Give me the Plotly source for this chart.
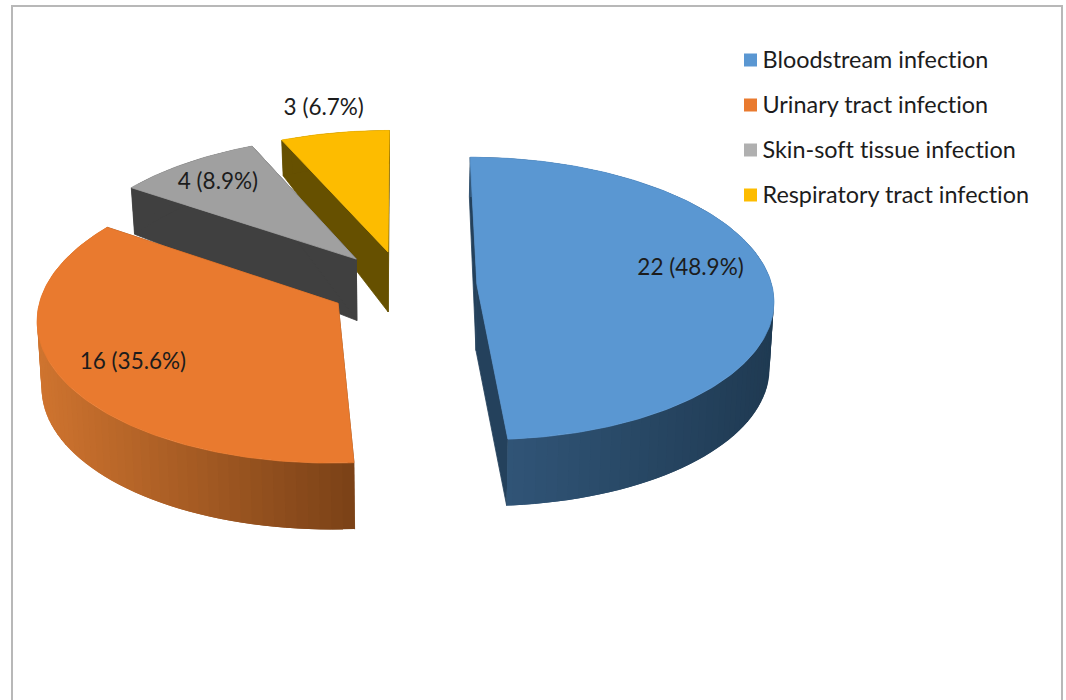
import numpy as np
import plotly.graph_objects as go

# Chart data
categories = ["Bloodstream infection", "Urinary tract infection",
              "Skin-soft tissue infection", "Respiratory tract infection"]
counts = [22, 16, 4, 3]

# Slice colours: top face, side face at the low-x and high-x ends of the rim
top_colors = ["#5a97d2", "#e97a2f", "#a0a0a0", "#fdbc00"]
rim_left = ["#33587c", "#cf742f", "#404040", "#665000"]
rim_right = ["#1f3a52", "#7a4117", "#404040", "#665000"]
cut_colors = ["#24415c", "#7a4117", "#404040", "#665000"]
key_colors = ["#5a97d2", "#e97a2f", "#b0b0b0", "#fdbc00"]

# Label placement: radial fraction along each slice's middle, plus a small nudge
label_radius = [0.75, 0.70, 0.70, 1.25]
label_nudge = [(-6.5, -11), (-15, 8), (-17, -7), (1, 3)]

# Projection of the pie's plane onto the page
CX, CY = 403.0, 285.5
RADIUS = 295.0
TILT = 140.0 / 295.0
PERSPECTIVE = 0.10
EXPLODE = 74.0 / 295.0
DEPTH = 66.5
BASE_SHRINK = 0.988

TEXT_FONT = "Lato, Carlito, sans-serif"
TEXT_COLOR = "#1c1c1c"


def project(u, v):
    """Map plane coordinates (v points toward the viewer) to page x, y."""
    s = 1.0 / (1.0 - PERSPECTIVE * v)
    return CX + RADIUS * u * s, CY + RADIUS * TILT * v * s


def lower(u, v):
    """Same point on the underside of the pie."""
    x, y = project(u, v)
    drop = DEPTH * (1.0 + 0.4 * np.minimum(v, 0.0))
    return CX + (x - CX) * BASE_SHRINK, y + drop


def polygon(fig, xs, ys, color, stroke=0.8):
    fig.add_trace(go.Scatter(
        x=list(xs), y=list(ys), mode="lines", fill="toself",
        fillcolor=color, line=dict(color=color, width=stroke),
        hoverinfo="skip", showlegend=False,
    ))


def mix(c1, c2, f):
    a = np.array([int(c1[i:i + 2], 16) for i in (1, 3, 5)], float)
    b = np.array([int(c2[i:i + 2], 16) for i in (1, 3, 5)], float)
    m = np.clip(a + (b - a) * f, 0, 255).round().astype(int)
    return f"rgb({m[0]},{m[1]},{m[2]})"


fig = go.Figure()

total = sum(counts)
edges = np.concatenate([[0.0], np.cumsum(counts)]) / total * 2 * np.pi
labels = []

# Back slices are painted first so the nearer ones overlap them
for i in [3, 2, 1, 0]:
    start, end = edges[i], edges[i + 1]
    mid = (start + end) / 2
    ou, ov = EXPLODE * np.sin(mid), -EXPLODE * np.cos(mid)
    theta = np.linspace(start, end, max(int(np.degrees(end - start)), 12))
    u = ou + np.sin(theta)
    v = ov - np.cos(theta)

    # Flat cut faces running from the apex to each end of the arc
    for k in (0, -1):
        tx0, ty0 = project(ou, ov)
        tx1, ty1 = project(u[k], v[k])
        bx0, by0 = lower(ou, ov)
        bx1, by1 = lower(u[k], v[k])
        polygon(fig, [tx0, tx1, bx1, bx0, tx0], [ty0, ty1, by1, by0, ty0], cut_colors[i])

    # Curved rim as overlapping strips, painted in order, for the horizontal shading
    tx, ty = project(u, v)
    bx, by = lower(u, v)
    x_lo, x_hi = bx.min(), bx.max()
    n = len(theta)
    step = 2
    for k in range(0, n - 1, step):
        j = min(k + step + 2, n - 1)
        seg = np.arange(k, j + 1)
        f = ((bx[k] + bx[min(k + step, n - 1)]) / 2 - x_lo) / (x_hi - x_lo)
        polygon(fig,
                np.concatenate([tx[seg], bx[seg][::-1], [tx[k]]]),
                np.concatenate([ty[seg], by[seg][::-1], [ty[k]]]),
                mix(rim_left[i], rim_right[i], f), stroke=0)

    # Top face
    ax, ay = project(ou, ov)
    polygon(fig, np.concatenate([[ax], tx, [ax]]), np.concatenate([[ay], ty, [ay]]), top_colors[i])

    # Value label
    r = label_radius[i]
    lx, ly = project(ou + r * np.sin(mid), ov - r * np.cos(mid))
    labels.append((lx + label_nudge[i][0], ly + label_nudge[i][1],
                   f"{counts[i]} ({counts[i] / total * 100:.1f}%)"))

fig.add_trace(go.Scatter(
    x=[p[0] for p in labels], y=[p[1] for p in labels], text=[p[2] for p in labels],
    mode="text", textposition="middle center",
    textfont=dict(family=TEXT_FONT, size=22.5, color=TEXT_COLOR),
    hoverinfo="skip", showlegend=False,
))

# Colour key in the upper right
KEY_X, KEY_Y, KEY_STEP = 750.5, 60.0, 45.0
KEY_TEXT_X = 762.5
KEY_TEXT_DROP = 2.0
key_rows = [KEY_Y + KEY_STEP * n for n in range(len(categories))]
fig.add_trace(go.Scatter(
    x=[KEY_X] * len(categories), y=key_rows,
    mode="markers",
    marker=dict(symbol="square", size=13, color=key_colors, line=dict(width=0)),
    hoverinfo="skip", showlegend=False,
))
fig.add_trace(go.Scatter(
    x=[KEY_TEXT_X] * len(categories), y=[row + KEY_TEXT_DROP for row in key_rows], text=categories,
    mode="text", textposition="middle right",
    textfont=dict(family=TEXT_FONT, size=23.4, color=TEXT_COLOR),
    hoverinfo="skip", showlegend=False,
))

fig.update_layout(
    width=1066, height=700,
    margin=dict(l=0, r=0, t=0, b=0),
    paper_bgcolor="white", plot_bgcolor="white",
    xaxis=dict(range=[0, 1066], visible=False, fixedrange=True),
    yaxis=dict(range=[700, 0], visible=False, fixedrange=True),
    showlegend=False,
    shapes=[dict(type="rect", xref="x", yref="y", x0=12, y0=6, x1=1062, y1=712,
                 line=dict(color="#b8b8b8", width=2), fillcolor="rgba(0,0,0,0)", layer="below")],
)

# Plain letterforms throughout, without the font's joined "ti"
no_ligatures = ("var s=document.createElement('style');"
                "s.textContent='svg text{font-variant-ligatures:none !important;"
                "font-feature-settings:\"liga\" 0,\"clig\" 0 !important}';"
                "document.head.appendChild(s);")
fig.write_html("out.html", config={"displayModeBar": False}, post_script=no_ligatures)
